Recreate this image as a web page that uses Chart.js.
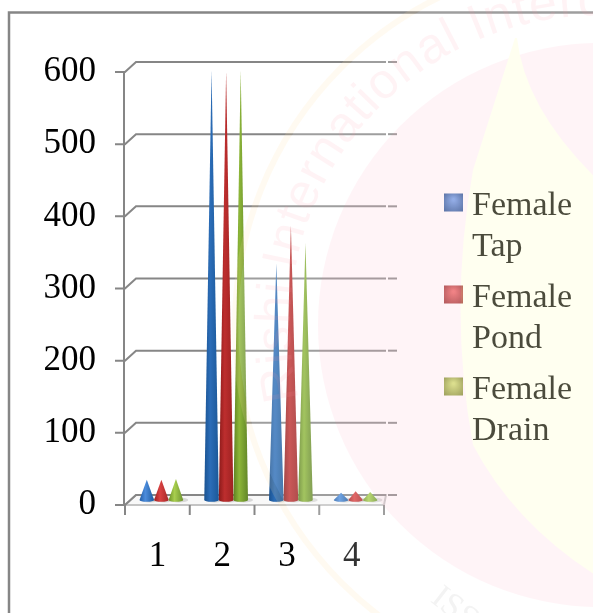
<!DOCTYPE html>
<html>
<head>
<meta charset="utf-8">
<style>
  html, body { margin: 0; padding: 0; background: #fff; }
  canvas { display: block; }
</style>
<script src="https://cdn.jsdelivr.net/npm/chart.js@4"></script>
</head>
<body>
<canvas id="grafico" width="593" height="613"></canvas>
<script>
// values
const categorias = ['1', '2', '3', '4'];
const femaleTap = [28, 596, 328, 10];
const femalePond = [28, 594, 381, 12];
const femaleDrain = [29, 596, 356, 11];
const nomes = [['Female', 'Tap'], ['Female', 'Pond'], ['Female', 'Drain']];
const valoresY = [0, 100, 200, 300, 400, 500, 600];

const coresBaixas = [
    ['#205ca6', '#4c8cdc', '#1e5a9e'],
    ['#9c2020', '#da4242', '#a62828'],
    ['#6c9226', '#a8ce4e', '#6e9430']
];
const coresAltas = [
    ['#1a5290', '#2b6db8', '#1b5898'],
    ['#8c1a1a', '#bd2e2e', '#9e2222'],
    ['#5c8020', '#8cb638', '#628628']
];
const coresLegenda = [
    ['#6c9ee8', '#204f90'],
    ['#ec6464', '#962c2c'],
    ['#cfe270', '#7a8c2c']
];

const fonte = '"Liberation Serif", "Times New Roman", serif';
const DX = 11, DY = -10; // depth of the 3d box

// frame and box behind the cones
const fundo = {
    id: 'fundo',
    beforeDraw(chart) {
        const c = chart.ctx;
        c.save();
        c.fillStyle = '#fff';
        c.fillRect(0, 0, 593, 613);
        c.strokeStyle = '#868686';
        c.lineWidth = 2.5;
        c.strokeRect(9, 12.5, 700, 700);
        c.restore();
    },
    beforeDatasetsDraw(chart) {
        const c = chart.ctx, sx = chart.scales.x, sy = chart.scales.y;
        const esq = sx.left, dir = sx.right;
        c.save();
        c.lineCap = 'butt';
        // floor
        const y0 = sy.getPixelForValue(0);
        c.beginPath();
        c.moveTo(esq, y0);
        c.lineTo(esq + DX, y0 + DY);
        c.lineTo(dir + 2, y0 + DY);
        c.lineTo(dir, y0);
        c.closePath();
        c.fillStyle = '#f8f8f8';
        c.fill();
        c.strokeStyle = '#c4c4c4';
        c.lineWidth = 2;
        c.stroke();
        // gridlines
        c.strokeStyle = '#868686';
        valoresY.forEach(v => {
            const y = sy.getPixelForValue(v);
            c.lineWidth = 2;
            c.beginPath();
            c.moveTo(esq - 10, y);
            c.lineTo(esq, y);
            c.lineTo(esq + DX, y + DY);
            c.lineTo(dir + 2, y + DY);
            c.stroke();
            c.beginPath();
            c.moveTo(dir + 4, y + DY);
            c.lineTo(dir + 13, y + DY);
            c.stroke();
        });
        // value axis
        c.beginPath();
        c.moveTo(esq - 1, sy.getPixelForValue(600));
        c.lineTo(esq - 1, y0);
        c.stroke();
        // category ticks
        for (let i = 0; i <= categorias.length; i++) {
            const x = esq + (dir - esq) * i / categorias.length;
            c.beginPath();
            c.moveTo(x, y0);
            c.lineTo(x, y0 + 10);
            c.stroke();
        }
        c.restore();
    },
    afterDatasetsDraw(chart) {
        const c = chart.ctx;
        chart.data.datasets.forEach((ds, i) => {
            chart.getDatasetMeta(i).data.forEach(bar => {
                const cx = bar.x + 4, base = bar.base - 5, topo = bar.y - 5, rx = bar.width / 2;
                const cores = (base - topo > 100) ? coresAltas[i] : coresBaixas[i];
                c.save();
                // shadow on the floor
                c.fillStyle = 'rgba(0,0,0,0.13)';
                c.beginPath();
                c.ellipse(cx + 3, base, rx + 2, 2.6, 0, 0, Math.PI * 2);
                c.fill();
                const g = c.createLinearGradient(cx - rx, 0, cx + rx, 0);
                g.addColorStop(0, cores[0]);
                g.addColorStop(0.4, cores[1]);
                g.addColorStop(1, cores[2]);
                c.fillStyle = g;
                c.beginPath();
                c.moveTo(cx, topo);
                c.lineTo(cx + rx, base);
                c.ellipse(cx, base, rx, 1.8, 0, 0, Math.PI);
                c.closePath();
                c.fill();
                c.restore();
            });
        });
    }
};

function textoEmArco(c, texto, cx, cy, r, inicio, fator) {
    let a = inicio * Math.PI / 180;
    for (const ch of texto) {
        const w = c.measureText(ch).width * fator;
        const meio = a + (w / 2) / r;
        c.save();
        c.translate(cx + r * Math.cos(meio), cy + r * Math.sin(meio));
        c.rotate(meio + Math.PI / 2);
        c.fillText(ch, 0, 0);
        c.restore();
        a += w / r;
    }
}

// legend swatches and the pale seal that lies over the whole chart
const selo = {
    id: 'selo',
    afterDraw(chart) {
        const c = chart.ctx;
        chart.legend.legendHitBoxes.forEach((h, i) => {
            const x = h.left - 9, y = h.top + 4, w = 19, hh = 18;
            c.save();
            const g = c.createRadialGradient(x + w / 2, y + 6, 1, x + w / 2, y + hh / 2, 13);
            g.addColorStop(0, coresLegenda[i][0]);
            g.addColorStop(1, coresLegenda[i][1]);
            c.fillStyle = g;
            c.fillRect(x, y, w, hh);
            c.restore();
        });

        const cx = 600, cy = 325;
        c.save();
        // white disc
        c.fillStyle = 'rgba(255,255,255,0.2)';
        c.beginPath();
        c.arc(cx, cy, 362, 0, Math.PI * 2);
        c.fill();
        // cream ring
        c.strokeStyle = 'rgba(255,225,170,0.16)';
        c.lineWidth = 6;
        c.beginPath();
        c.arc(cx, cy, 365, 0, Math.PI * 2);
        c.stroke();

        // flame, kept out of the pink disc
        const chama = new Path2D();
        chama.moveTo(515, 38);
        chama.lineTo(473, 170);
        chama.quadraticCurveTo(448, 310, 473, 445);
        chama.quadraticCurveTo(515, 525, 600, 578);
        chama.lineTo(600, 182);
        chama.quadraticCurveTo(525, 110, 517, 38);
        chama.closePath();

        const fora = new Path2D();
        fora.rect(0, 0, 593, 613);
        fora.addPath(chama);
        c.save();
        c.clip(fora, 'evenodd');
        c.fillStyle = 'rgba(255,130,165,0.085)';
        c.beginPath();
        c.arc(cx, cy, 282, 0, Math.PI * 2);
        c.fill();
        c.restore();
        c.fillStyle = 'rgba(255,255,130,0.12)';
        c.fill(chama);

        // lettering of the seal
        c.fillStyle = 'rgba(255,150,165,0.11)';
        c.font = '50px "Liberation Sans", sans-serif';
        c.textAlign = 'center';
        textoEmArco(c, 'Rishi International Interdisciplinary', cx, cy, 310, 166, 1.05);
        c.fillStyle = 'rgba(120,120,120,0.09)';
        c.save();
        c.translate(438, 590);
        c.rotate(38 * Math.PI / 180);
        c.font = '34px "Liberation Serif", serif';
        c.textAlign = 'left';
        c.fillText('ISS', 0, 14);
        c.restore();
        c.restore();
    }
};

new Chart(document.getElementById('grafico'), {
    type: 'bar',
    data: {
        labels: categorias,
        datasets: [femaleTap, femalePond, femaleDrain].map((valores, i) => ({
            label: nomes[i],
            data: valores,
            backgroundColor: 'transparent',
            borderWidth: 0,
            barPercentage: 1,
            categoryPercentage: 0.675
        }))
    },
    options: {
        responsive: false,
        animation: false,
        layout: { padding: { top: 72, right: 81, bottom: 0, left: 0 } },
        scales: {
            x: {
                grid: { display: false },
                border: { display: false },
                ticks: { color: '#000', font: { family: fonte, size: 35 }, padding: 23, maxRotation: 0 },
                afterFit(s) { s.height = 108; }
            },
            y: {
                min: 0,
                max: 600,
                grid: { display: false },
                border: { display: false },
                afterBuildTicks(s) { s.ticks = valoresY.map(v => ({ value: v })); },
                ticks: { color: '#000', font: { family: fonte, size: 35 }, padding: 21 },
                afterFit(s) { s.width = 125; }
            }
        },
        plugins: {
            tooltip: { enabled: false },
            legend: {
                position: 'right',
                labels: {
                    boxWidth: 2,
                    boxHeight: 2,
                    padding: 10,
                    color: '#000',
                    font: { family: fonte, size: 34, lineHeight: 41 / 34 },
                    generateLabels(chart) {
                        return chart.data.datasets.map((d, i) => ({
                            text: d.label,
                            fillStyle: 'transparent',
                            strokeStyle: 'transparent',
                            lineWidth: 0,
                            datasetIndex: i
                        }));
                    }
                }
            }
        }
    },
    plugins: [fundo, selo, {
        id: 'moveLegenda',
        afterLayout(chart) {
            const l = chart.legend;
            l.left += 59; l.right += 59;
            l.top -= 20; l.bottom -= 20;
        }
    }]
});
</script>
</body>
</html>
